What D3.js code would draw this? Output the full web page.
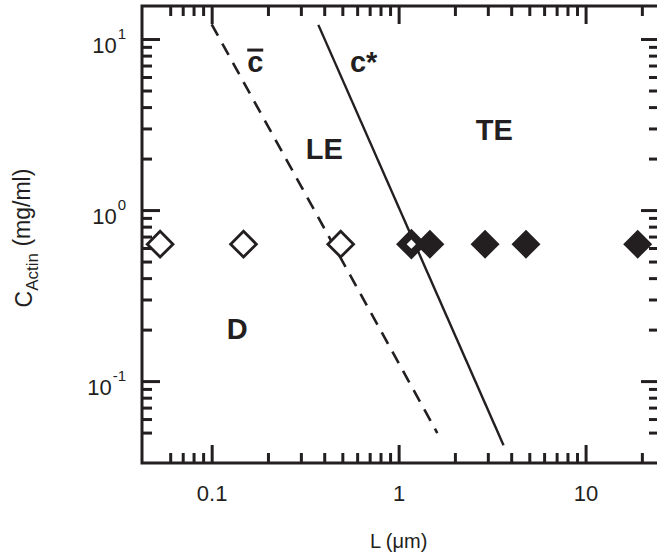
<!DOCTYPE html>
<html>
<head>
<meta charset="utf-8">
<title>C_Actin vs L</title>
<script src="https://cdn.jsdelivr.net/npm/d3@7/dist/d3.min.js"></script>
<style>
body { margin:0; background:#fff; }
text { font-family: Arial, "Liberation Sans", sans-serif; fill:#231f20; }
</style>
</head>
<body>
<svg id="chart" width="657" height="554"></svg>
<script>
// filament length (um) and actin concentration (mg/ml) of each sample
var lengths = [0.053, 0.148, 0.49, 1.17, 1.47, 2.9, 4.8, 19];
var concs   = [0.632, 0.632, 0.632, 0.632, 0.632, 0.632, 0.632, 0.632];
var kinds   = ["open", "open", "open", "heavy", "filled", "filled", "filled", "filled"];

// boundary lines, end points [L, C]
var cbarLine  = [[0.1, 12.2], [1.61, 0.0497]];
var cstarLine = [[0.372, 12.1], [3.64, 0.0422]];

var xMajor = [0.1, 1, 10];
var xMinor = [0.06, 0.07, 0.08, 0.09, 0.2, 0.3, 0.4, 0.5, 0.6, 0.7, 0.8, 0.9,
              2, 3, 4, 5, 6, 7, 8, 9, 20];
var yMajor = [0.1, 1, 10];
var yExp   = ["-1", "0", "1"];
var yMinor = [0.05, 0.06, 0.07, 0.08, 0.09, 0.2, 0.3, 0.4, 0.5, 0.6, 0.7, 0.8, 0.9,
              2, 3, 4, 5, 6, 7, 8, 9];

// region names, anchored in data units
var regionText = ["LE", "TE", "D"];
var regionL    = [0.40, 3.25, 0.137];
var regionC    = [1.98, 2.57, 0.176];

var svg = d3.select("#chart");
var plotL = 142, plotR = 659, plotT = 6, plotB = 463;

var x = d3.scaleLog().domain([0.0424, 24.7]).range([plotL, plotR]);
var y = d3.scaleLog().domain([0.0332, 15.6]).range([plotB, plotT]);

var ink = "#231f20";
var majorLen = 18, minorLen = 10;

function styleAxis(g) {
  g.select(".domain").remove();
  g.selectAll(".tick line").attr("stroke", ink).attr("stroke-width", 3);
}

// ticks, all pointing inward
svg.append("g").attr("transform", "translate(0," + plotB + ")")
  .call(d3.axisBottom(x).tickValues(xMinor).tickSize(-minorLen).tickFormat(""))
  .call(styleAxis);
var xb = svg.append("g").attr("transform", "translate(0," + plotB + ")")
  .call(d3.axisBottom(x).tickValues(xMajor).tickSize(-majorLen).tickPadding(22)
        .tickFormat(function(d) { return d < 1 ? d3.format(".1f")(d) : d3.format("d")(d); }))
  .call(styleAxis);
xb.selectAll(".tick text").attr("font-size", 22).attr("fill", ink);

svg.append("g").attr("transform", "translate(0," + plotT + ")")
  .call(d3.axisTop(x).tickValues(xMinor).tickSize(-minorLen).tickFormat(""))
  .call(styleAxis);
svg.append("g").attr("transform", "translate(0," + plotT + ")")
  .call(d3.axisTop(x).tickValues(xMajor).tickSize(-majorLen).tickFormat(""))
  .call(styleAxis);

svg.append("g").attr("transform", "translate(" + plotL + ",0)")
  .call(d3.axisLeft(y).tickValues(yMinor).tickSize(-minorLen).tickFormat(""))
  .call(styleAxis);
var yl = svg.append("g").attr("transform", "translate(" + plotL + ",0)")
  .call(d3.axisLeft(y).tickValues(yMajor).tickSize(-majorLen).tickPadding(16).tickFormat(""))
  .call(styleAxis);
yl.selectAll(".tick text").each(function(d, i) {
  var t = d3.select(this).attr("font-size", 22).attr("fill", ink).attr("dy", "0.62em");
  t.append("tspan").text("10");
  t.append("tspan").attr("font-size", 15).attr("dy", "-0.95em").attr("dx", "1").text(yExp[i]);
});

svg.append("g").attr("transform", "translate(" + plotR + ",0)")
  .call(d3.axisRight(y).tickValues(yMinor).tickSize(-minorLen).tickFormat(""))
  .call(styleAxis);
svg.append("g").attr("transform", "translate(" + plotR + ",0)")
  .call(d3.axisRight(y).tickValues(yMajor).tickSize(-majorLen).tickFormat(""))
  .call(styleAxis);

// frame
svg.append("rect")
  .attr("x", plotL).attr("y", plotT)
  .attr("width", plotR - plotL).attr("height", plotB - plotT)
  .attr("fill", "none").attr("stroke", ink).attr("stroke-width", 3);

// boundary lines
var line = d3.line().x(function(d) { return x(d[0]); }).y(function(d) { return y(d[1]); });
svg.append("path").attr("d", line(cbarLine))
  .attr("fill", "none").attr("stroke", ink).attr("stroke-width", 2.6)
  .attr("stroke-dasharray", "13,9");
svg.append("path").attr("d", line(cstarLine))
  .attr("fill", "none").attr("stroke", ink).attr("stroke-width", 2.4);

// markers
var diamond = d3.symbol().type(d3.symbolSquare);
var markSize = { open: 330, heavy: 200, filled: 420 };
var markStroke = { open: 2.8, heavy: 7.5, filled: 0 };
svg.append("g").selectAll("path.pt")
  .data(lengths)
  .enter().append("path")
  .attr("class", "pt")
  .attr("transform", function(d, i) { return "translate(" + x(d) + "," + y(concs[i]) + ") rotate(45)"; })
  .attr("d", function(d, i) { return diamond.size(markSize[kinds[i]])(); })
  .attr("fill", function(d, i) { return kinds[i] === "filled" ? ink : "#fff"; })
  .attr("stroke", ink)
  .attr("stroke-width", function(d, i) { return markStroke[kinds[i]]; });

// region labels
svg.append("g").selectAll("text")
  .data(regionText)
  .enter().append("text")
  .attr("x", function(d, i) { return x(regionL[i]); })
  .attr("y", function(d, i) { return y(regionC[i]); })
  .attr("text-anchor", "middle")
  .attr("font-size", 29).attr("font-weight", "bold")
  .text(function(d) { return d; });

// line labels
svg.append("text").attr("x", x(0.171)).attr("y", y(6.41))
  .attr("text-anchor", "middle").attr("font-size", 29).attr("font-weight", "bold")
  .text("c");
svg.append("line")
  .attr("x1", x(0.171) - 8).attr("x2", x(0.171) + 8)
  .attr("y1", y(6.41) - 22).attr("y2", y(6.41) - 22)
  .attr("stroke", ink).attr("stroke-width", 3);
svg.append("text").attr("x", x(0.65)).attr("y", y(6.41))
  .attr("text-anchor", "middle").attr("font-size", 29).attr("font-weight", "bold")
  .text("c*");

// axis titles
svg.append("text").attr("x", x(1)).attr("y", 548)
  .attr("text-anchor", "middle").attr("font-size", 20)
  .text("L (\u03bcm)");
var yt = svg.append("text")
  .attr("transform", "translate(32," + 238 + ") rotate(-90)")
  .attr("text-anchor", "middle").attr("font-size", 23);
yt.append("tspan").text("C");
yt.append("tspan").attr("font-size", 17).attr("dy", "0.35em").text("Actin");
yt.append("tspan").attr("dy", "-0.35em").text(" (mg/ml)");
</script>
</body>
</html>
